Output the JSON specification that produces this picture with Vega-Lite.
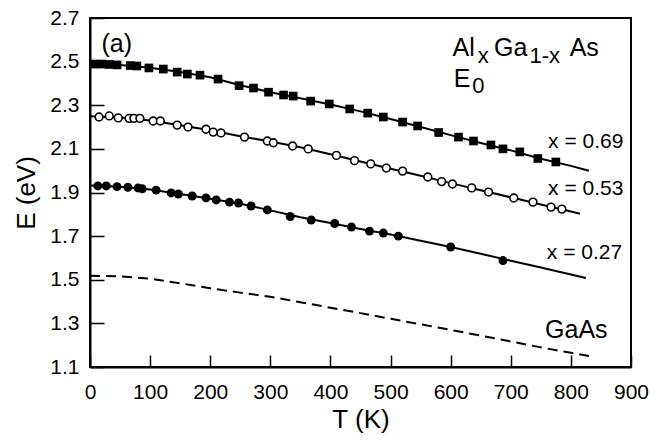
{
  "$schema": "https://vega.github.io/schema/vega-lite/v6.json",
  "width": 541,
  "height": 349,
  "autosize": {"type": "none"},
  "padding": {"left": 90, "top": 18, "right": 23, "bottom": 73},
  "background": "white",
  "config": {
    "font": "Liberation Sans",
    "view": {"stroke": "black", "strokeWidth": 2},
    "axis": {"grid": false, "domainColor": "black", "domainWidth": 2, "tickColor": "black", "tickWidth": 1.5, "labelColor": "black", "titleColor": "black", "labelFont": "Liberation Sans", "titleFont": "Liberation Sans", "titleFontWeight": "normal"}
  },
  "datasets": {
    "curves": [
      {"s": "0.69", "T": 0, "E": 2.490}, {"s": "0.69", "T": 50, "E": 2.485}, {"s": "0.69", "T": 100, "E": 2.472}, {"s": "0.69", "T": 150, "E": 2.452}, {"s": "0.69", "T": 200, "E": 2.428}, {"s": "0.69", "T": 250, "E": 2.392}, {"s": "0.69", "T": 300, "E": 2.360}, {"s": "0.69", "T": 350, "E": 2.332}, {"s": "0.69", "T": 400, "E": 2.303}, {"s": "0.69", "T": 450, "E": 2.272}, {"s": "0.69", "T": 500, "E": 2.237}, {"s": "0.69", "T": 550, "E": 2.200}, {"s": "0.69", "T": 600, "E": 2.163}, {"s": "0.69", "T": 650, "E": 2.127}, {"s": "0.69", "T": 700, "E": 2.093}, {"s": "0.69", "T": 750, "E": 2.055}, {"s": "0.69", "T": 800, "E": 2.022}, {"s": "0.69", "T": 830, "E": 2.000},
      {"s": "0.53", "T": 0, "E": 2.250}, {"s": "0.53", "T": 50, "E": 2.244}, {"s": "0.53", "T": 100, "E": 2.230}, {"s": "0.53", "T": 150, "E": 2.208}, {"s": "0.53", "T": 200, "E": 2.185}, {"s": "0.53", "T": 250, "E": 2.158}, {"s": "0.53", "T": 300, "E": 2.134}, {"s": "0.53", "T": 350, "E": 2.107}, {"s": "0.53", "T": 400, "E": 2.075}, {"s": "0.53", "T": 450, "E": 2.042}, {"s": "0.53", "T": 500, "E": 2.009}, {"s": "0.53", "T": 550, "E": 1.977}, {"s": "0.53", "T": 600, "E": 1.943}, {"s": "0.53", "T": 650, "E": 1.910}, {"s": "0.53", "T": 700, "E": 1.878}, {"s": "0.53", "T": 750, "E": 1.845}, {"s": "0.53", "T": 800, "E": 1.813}, {"s": "0.53", "T": 815, "E": 1.803},
      {"s": "0.27", "T": 0, "E": 1.932}, {"s": "0.27", "T": 50, "E": 1.926}, {"s": "0.27", "T": 100, "E": 1.914}, {"s": "0.27", "T": 150, "E": 1.893}, {"s": "0.27", "T": 200, "E": 1.871}, {"s": "0.27", "T": 250, "E": 1.848}, {"s": "0.27", "T": 300, "E": 1.818}, {"s": "0.27", "T": 350, "E": 1.787}, {"s": "0.27", "T": 400, "E": 1.760}, {"s": "0.27", "T": 450, "E": 1.733}, {"s": "0.27", "T": 500, "E": 1.707}, {"s": "0.27", "T": 550, "E": 1.679}, {"s": "0.27", "T": 600, "E": 1.650}, {"s": "0.27", "T": 650, "E": 1.619}, {"s": "0.27", "T": 700, "E": 1.587}, {"s": "0.27", "T": 750, "E": 1.556}, {"s": "0.27", "T": 800, "E": 1.524}, {"s": "0.27", "T": 825, "E": 1.508}
    ],
    "gaas": [
      {"T": 0, "E": 1.518}, {"T": 50, "E": 1.516}, {"T": 100, "E": 1.505}, {"T": 150, "E": 1.484}, {"T": 200, "E": 1.461}, {"T": 250, "E": 1.441}, {"T": 300, "E": 1.422}, {"T": 350, "E": 1.397}, {"T": 400, "E": 1.372}, {"T": 450, "E": 1.347}, {"T": 500, "E": 1.321}, {"T": 550, "E": 1.296}, {"T": 600, "E": 1.270}, {"T": 650, "E": 1.244}, {"T": 700, "E": 1.217}, {"T": 750, "E": 1.190}, {"T": 800, "E": 1.165}, {"T": 830, "E": 1.150}
    ],
    "sq": [
      {"T": 8, "E": 2.489}, {"T": 20, "E": 2.489}, {"T": 32, "E": 2.487}, {"T": 45, "E": 2.485}, {"T": 67, "E": 2.482}, {"T": 78, "E": 2.480}, {"T": 98, "E": 2.471}, {"T": 122, "E": 2.466}, {"T": 145, "E": 2.452}, {"T": 162, "E": 2.443}, {"T": 183, "E": 2.438}, {"T": 213, "E": 2.420}, {"T": 248, "E": 2.390}, {"T": 272, "E": 2.379}, {"T": 297, "E": 2.360}, {"T": 322, "E": 2.347}, {"T": 338, "E": 2.342}, {"T": 367, "E": 2.319}, {"T": 398, "E": 2.306}, {"T": 432, "E": 2.283}, {"T": 462, "E": 2.264}, {"T": 488, "E": 2.246}, {"T": 520, "E": 2.223}, {"T": 545, "E": 2.205}, {"T": 580, "E": 2.175}, {"T": 613, "E": 2.154}, {"T": 638, "E": 2.136}, {"T": 667, "E": 2.118}, {"T": 687, "E": 2.100}, {"T": 715, "E": 2.086}, {"T": 745, "E": 2.056}, {"T": 775, "E": 2.040}
    ],
    "oc": [
      {"T": 15, "E": 2.246}, {"T": 32, "E": 2.251}, {"T": 47, "E": 2.242}, {"T": 65, "E": 2.240}, {"T": 73, "E": 2.240}, {"T": 83, "E": 2.240}, {"T": 105, "E": 2.228}, {"T": 117, "E": 2.228}, {"T": 145, "E": 2.209}, {"T": 163, "E": 2.200}, {"T": 193, "E": 2.190}, {"T": 205, "E": 2.177}, {"T": 218, "E": 2.173}, {"T": 257, "E": 2.154}, {"T": 295, "E": 2.136}, {"T": 305, "E": 2.128}, {"T": 337, "E": 2.113}, {"T": 363, "E": 2.100}, {"T": 410, "E": 2.070}, {"T": 440, "E": 2.046}, {"T": 467, "E": 2.031}, {"T": 493, "E": 2.012}, {"T": 520, "E": 1.998}, {"T": 562, "E": 1.971}, {"T": 585, "E": 1.950}, {"T": 603, "E": 1.939}, {"T": 635, "E": 1.921}, {"T": 663, "E": 1.902}, {"T": 705, "E": 1.875}, {"T": 737, "E": 1.856}, {"T": 767, "E": 1.833}, {"T": 785, "E": 1.824}
    ],
    "fc": [
      {"T": 13, "E": 1.930}, {"T": 27, "E": 1.930}, {"T": 45, "E": 1.927}, {"T": 63, "E": 1.924}, {"T": 80, "E": 1.921}, {"T": 87, "E": 1.917}, {"T": 110, "E": 1.911}, {"T": 135, "E": 1.898}, {"T": 147, "E": 1.893}, {"T": 170, "E": 1.884}, {"T": 193, "E": 1.875}, {"T": 210, "E": 1.866}, {"T": 232, "E": 1.856}, {"T": 247, "E": 1.852}, {"T": 268, "E": 1.838}, {"T": 295, "E": 1.820}, {"T": 333, "E": 1.790}, {"T": 368, "E": 1.774}, {"T": 407, "E": 1.758}, {"T": 435, "E": 1.742}, {"T": 465, "E": 1.723}, {"T": 488, "E": 1.714}, {"T": 513, "E": 1.700}, {"T": 600, "E": 1.650}, {"T": 687, "E": 1.588}
    ],
    "labels": [
      {"T": 762, "E": 2.104, "t": "x = 0.69"},
      {"T": 762, "E": 1.889, "t": "x = 0.53"},
      {"T": 760, "E": 1.595, "t": "x = 0.27"}
    ],
    "big": [
      {"T": 603, "E": 2.526, "t": "Al"},
      {"T": 672, "E": 2.526, "t": "Ga"},
      {"T": 798, "E": 2.526, "t": "As"},
      {"T": 605, "E": 2.384, "t": "E"},
      {"T": 757, "E": 1.233, "t": "GaAs"},
      {"T": 19, "E": 2.542, "t": "(a)"}
    ],
    "sub": [
      {"T": 645, "E": 2.494, "t": "x"},
      {"T": 731, "E": 2.494, "t": "1-x"},
      {"T": 636, "E": 2.356, "t": "0"}
    ]
  },
  "encoding": {
    "x": {"field": "T", "type": "quantitative", "scale": {"domain": [0, 900], "nice": false, "zero": false},
      "axis": {"title": "T (K)", "values": [0, 100, 200, 300, 400, 500, 600, 700, 800, 900], "tickSize": -12, "labelPadding": 26, "labelFontSize": 21, "titleFontSize": 26, "titlePadding": 4, "labelFlush": false}},
    "y": {"field": "E", "type": "quantitative", "scale": {"domain": [1.1, 2.7], "nice": false, "zero": false},
      "axis": {"title": "E (eV)", "values": [1.1, 1.3, 1.5, 1.7, 1.9, 2.1, 2.3, 2.5, 2.7], "format": ".1f", "tickSize": -14, "labelPadding": 25, "labelFontSize": 21, "titleFontSize": 26, "titlePadding": 10, "labelFlush": false}}
  },
  "layer": [
    {"data": {"name": "curves"}, "mark": {"type": "line", "color": "black", "strokeWidth": 2}, "encoding": {"detail": {"field": "s"}}},
    {"data": {"name": "gaas"}, "mark": {"type": "line", "color": "black", "strokeWidth": 2, "strokeDash": [10, 6]}},
    {"data": {"name": "sq"}, "mark": {"type": "point", "shape": "square", "filled": true, "color": "black", "size": 75, "opacity": 1}},
    {"data": {"name": "oc"}, "mark": {"type": "point", "shape": "circle", "filled": true, "fill": "white", "stroke": "black", "strokeWidth": 1.6, "size": 60, "opacity": 1}},
    {"data": {"name": "fc"}, "mark": {"type": "point", "shape": "circle", "filled": true, "color": "black", "size": 80, "opacity": 1}},
    {"data": {"name": "labels"}, "mark": {"type": "text", "align": "left", "baseline": "alphabetic", "fontSize": 21, "color": "black"}, "encoding": {"text": {"field": "t"}}},
    {"data": {"name": "big"}, "mark": {"type": "text", "align": "left", "baseline": "alphabetic", "fontSize": 25, "color": "black"}, "encoding": {"text": {"field": "t"}}},
    {"data": {"name": "sub"}, "mark": {"type": "text", "align": "left", "baseline": "alphabetic", "fontSize": 22, "color": "black"}, "encoding": {"text": {"field": "t"}}}
  ]
}
